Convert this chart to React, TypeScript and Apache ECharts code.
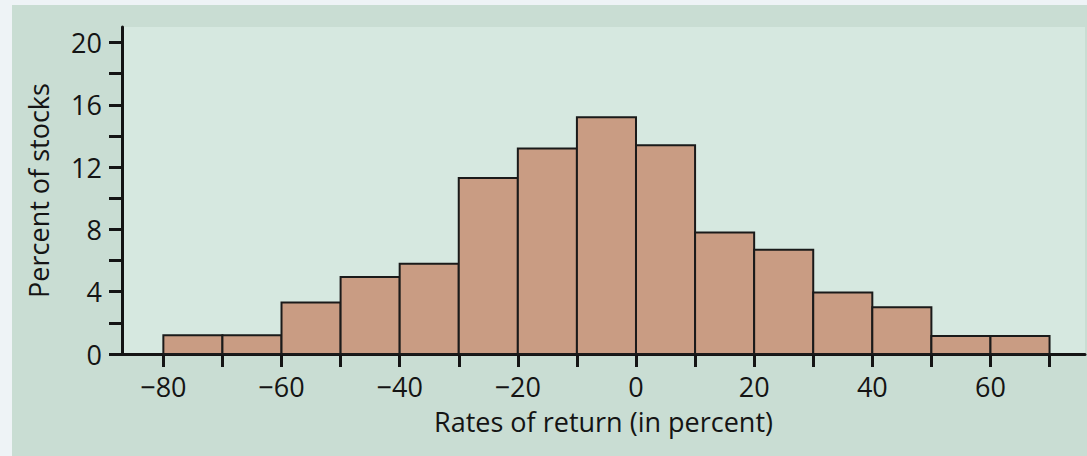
import React, { useEffect, useRef } from "react";
import * as echarts from "echarts";

const binStarts = [-80, -70, -60, -50, -40, -30, -20, -10, 0, 10, 20, 30, 40, 50, 60];
const binWidth = 10;
const percents = [1.2, 1.2, 3.3, 4.95, 5.8, 11.3, 13.2, 15.2, 13.4, 7.8, 6.7, 3.95, 3.0, 1.15, 1.15];
const xTickValues = [-80, -70, -60, -50, -40, -30, -20, -10, 0, 10, 20, 30, 40, 50, 60, 70];
const xLabelValues = [-80, -60, -40, -20, 0, 20, 40, 60];
const yTickValues = [0, 2, 4, 6, 8, 10, 12, 14, 16, 18, 20];
const yLabelValues = [0, 4, 8, 12, 16, 20];
const xName = "Rates of return (in percent)";
const yName = "Percent of stocks";

const FONT = "Open Sans";
const INK = "#141414";
const FS = 27;

export default function App() {
  const ref = useRef<HTMLDivElement>(null);
  useEffect(() => {
    if (!ref.current) return;
    const chart = echarts.init(ref.current, undefined, { renderer: "svg" });
    const data = binStarts.map((s, i) => [s, s + binWidth, percents[i]]);
    chart.setOption({
      animation: false,
      backgroundColor: "#c9ddd3",
      graphic: [
        { type: "rect", left: 0, top: 0, shape: { x: 0, y: 0, width: 12, height: 456 }, style: { fill: "#eef3f6" }, z: 100 },
        { type: "rect", left: 0, top: 0, shape: { x: 0, y: 0, width: 1087, height: 5 }, style: { fill: "#eef3f6" }, z: 100 },
      ],
      grid: {
        left: 122,
        right: 2,
        top: 27,
        bottom: 102,
        show: true,
        backgroundColor: "#d6e8e0",
        borderWidth: 0,
      },
      xAxis: {
        type: "value",
        min: -87,
        max: 76,
        name: xName,
        nameLocation: "middle",
        nameGap: 54,
        nameTextStyle: { fontFamily: FONT, fontSize: FS, color: INK },
        axisLine: { show: true, onZero: false, lineStyle: { color: INK, width: 3 } },
        axisTick: { show: true, length: 13, customValues: xTickValues, lineStyle: { color: INK, width: 3 } },
        axisLabel: {
          customValues: xLabelValues,
          formatter: (v: number) => (v < 0 ? "\u2212" + Math.abs(v) : String(v)),
          fontFamily: FONT,
          fontSize: FS,
          color: INK,
          margin: 19,
        },
        splitLine: { show: false },
      },
      yAxis: {
        type: "value",
        min: 0,
        max: 21,
        name: yName,
        nameLocation: "middle",
        nameGap: 70,
        nameTextStyle: { fontFamily: FONT, fontSize: FS, color: INK },
        axisLine: { show: true, onZero: false, lineStyle: { color: INK, width: 3 } },
        axisTick: { show: true, length: 13, customValues: yTickValues, lineStyle: { color: INK, width: 3 } },
        axisLabel: {
          customValues: yLabelValues,
          fontFamily: FONT,
          fontSize: FS,
          color: INK,
          margin: 20,
        },
        splitLine: { show: false },
      },
      series: [
        {
          type: "custom",
          data,
          encode: { x: [0, 1], y: 2 },
          z: 1,
          renderItem: (params: any, api: any) => {
            const lo = api.value(0);
            const hi = api.value(1);
            const v = api.value(2);
            const p0 = api.coord([lo, 0]);
            const p1 = api.coord([hi, v]);
            return {
              type: "rect",
              shape: { x: p0[0], y: p1[1], width: p1[0] - p0[0], height: p0[1] - p1[1] },
              style: { fill: "#c99c83", stroke: "#1a1a1a", lineWidth: 2 },
            };
          },
        },
      ],
    });
    return () => chart.dispose();
  }, []);
  return (
    <div
      ref={ref}
      style={{ position: "absolute", left: 0, top: 0, width: 1087, height: 456 }}
    />
  );
}
